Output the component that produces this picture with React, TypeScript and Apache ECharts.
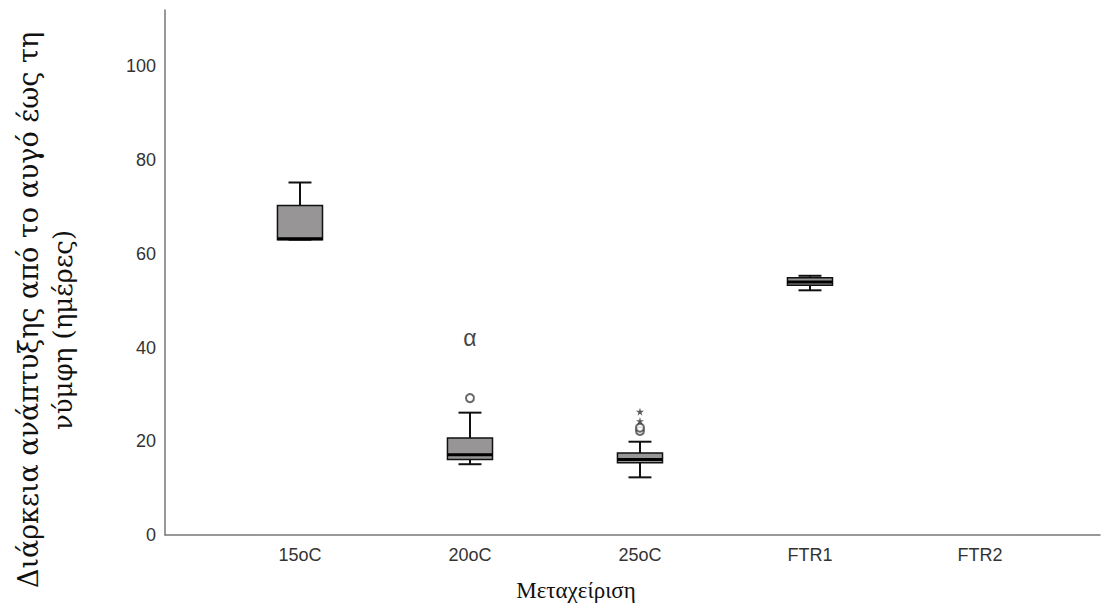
import React, { useEffect, useRef } from "react";
import * as echarts from "echarts";

const categories = ["15oC", "20oC", "25oC", "FTR1", "FTR2"];
// [categoryIndex, min, Q1, median, Q3, max]
const boxData: number[][] = [
  [0, 63, 63, 63.2, 70.3, 75.2],
  [1, 15.1, 16.1, 17.1, 20.7, 26.1],
  [2, 12.3, 15.4, 16.1, 17.5, 19.9],
  [3, 52.2, 53.3, 54.0, 54.9, 55.3],
];
const circleOutliers: number[][] = [
  [1, 29.2],
  [2, 22.2],
  [2, 22.9],
];
const starOutliers: number[][] = [
  [2, 24.3],
  [2, 26.3],
];
const annotations: (number | string)[][] = [[1, 42, "α"]];
const yTicks = [0, 20, 40, 60, 80, 100];

const yTitleLine1 = "Διάρκεια ανάπτυξης από το αυγό έως τη";
const yTitleLine2 = "νύμφη (ημέρες)";
const xTitle = "Μεταχείριση";

export default function App() {
  const ref = useRef<HTMLDivElement>(null);
  useEffect(() => {
    if (!ref.current) return;
    const chart = echarts.init(ref.current, null, { renderer: "svg" });
    const starPath =
      "path://M50,0 L61,35 L98,35 L68,57 L79,91 L50,70 L21,91 L32,57 L2,35 L39,35 Z";
    const sans = "'Liberation Sans', Arial, sans-serif";
    chart.setOption({
      animation: false,
      grid: { left: 165, right: 15, top: 10, bottom: 79, outerBoundsMode: "none", containLabel: false },
      xAxis: {
        type: "value",
        min: -0.794,
        max: 4.706,
        axisLine: { show: true, onZero: false, lineStyle: { color: "#777", width: 1.5 } },
        axisTick: { show: false },
        splitLine: { show: false },
        axisLabel: {
          customValues: [0, 1, 2, 3, 4],
          formatter: (v: number) => categories[Math.round(v)] ?? "",
          color: "#333",
          fontSize: 18,
          fontFamily: sans,
          margin: 11,
        },
      },
      yAxis: {
        type: "value",
        min: 0,
        max: 112,
        axisLine: { show: true, onZero: false, lineStyle: { color: "#777", width: 1.5 } },
        axisTick: { show: false },
        splitLine: { show: false },
        axisLabel: {
          customValues: yTicks,
          color: "#333",
          fontSize: 18,
          fontFamily: sans,
          margin: 9,
        },
      },
      graphic: [
        {
          type: "text",
          x: 28,
          y: 310,
          rotation: Math.PI / 2,
          style: {
            text: yTitleLine1,
            font: "27px 'DejaVu Serif', serif",
            fill: "#111",
            align: "center",
            verticalAlign: "middle",
          },
        },
        {
          type: "text",
          x: 63,
          y: 330,
          rotation: Math.PI / 2,
          style: {
            text: yTitleLine2,
            font: "26px 'DejaVu Serif', serif",
            fill: "#111",
            align: "center",
            verticalAlign: "middle",
          },
        },
        {
          type: "text",
          x: 576,
          y: 590,
          style: {
            text: xTitle,
            font: "23px 'Liberation Serif', serif",
            fill: "#111",
            align: "center",
            verticalAlign: "middle",
          },
        },
      ],
      series: [
        {
          type: "custom",
          data: boxData,
          encode: { x: 0, y: [1, 2, 3, 4, 5] },
          renderItem: (params: any, api: any) => {
            const x = api.value(0);
            const pMin = api.coord([x, api.value(1)]);
            const pQ1 = api.coord([x, api.value(2)]);
            const pMed = api.coord([x, api.value(3)]);
            const pQ3 = api.coord([x, api.value(4)]);
            const pMax = api.coord([x, api.value(5)]);
            const unit = api.size([1, 0])[0];
            const bw = unit * 0.265;
            const cw = unit * 0.135;
            const cx = pMed[0];
            const stroke = { stroke: "#111", lineWidth: 2 };
            return {
              type: "group",
              children: [
                { type: "line", shape: { x1: cx, y1: pQ3[1], x2: cx, y2: pMax[1] }, style: stroke },
                { type: "line", shape: { x1: cx, y1: pQ1[1], x2: cx, y2: pMin[1] }, style: stroke },
                { type: "line", shape: { x1: cx - cw / 2, y1: pMax[1], x2: cx + cw / 2, y2: pMax[1] }, style: stroke },
                { type: "line", shape: { x1: cx - cw / 2, y1: pMin[1], x2: cx + cw / 2, y2: pMin[1] }, style: stroke },
                {
                  type: "rect",
                  shape: { x: cx - bw / 2, y: pQ3[1], width: bw, height: pQ1[1] - pQ3[1] },
                  style: { fill: "#979595", stroke: "#111", lineWidth: 1.5 },
                },
                {
                  type: "line",
                  shape: { x1: cx - bw / 2, y1: pMed[1], x2: cx + bw / 2, y2: pMed[1] },
                  style: { stroke: "#000", lineWidth: 3 },
                },
              ],
            };
          },
          z: 2,
        },
        {
          type: "scatter",
          data: circleOutliers,
          symbol: "emptyCircle",
          symbolSize: 8,
          itemStyle: { color: "#444", borderColor: "#444", borderWidth: 1.2 },
          z: 3,
        },
        {
          type: "scatter",
          data: starOutliers,
          symbol: starPath,
          symbolSize: 8,
          itemStyle: { color: "#333" },
          z: 3,
        },
        {
          type: "scatter",
          data: annotations,
          symbolSize: 0,
          label: {
            show: true,
            position: "inside",
            formatter: (p: any) => p.data[2],
            fontSize: 23,
            color: "#111",
            fontFamily: sans,
          },
          z: 3,
        },
      ],
    });
    return () => chart.dispose();
  }, []);
  return (
    <div
      ref={ref}
      style={{ position: "fixed", left: 0, top: 0, width: 1115, height: 614, background: "#fff" }}
    />
  );
}
